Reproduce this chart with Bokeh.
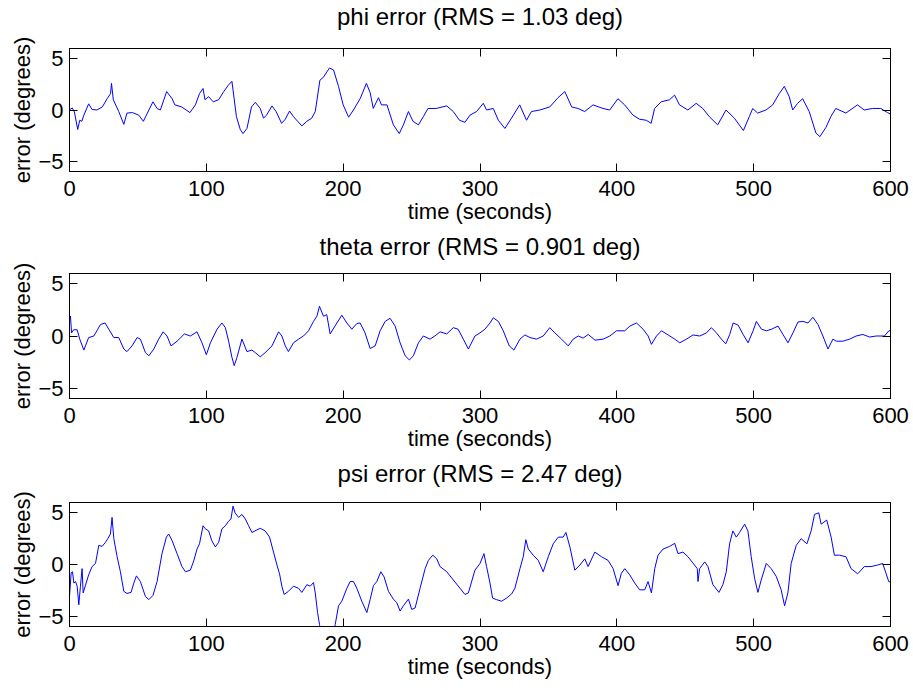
from bokeh.plotting import figure
from bokeh.layouts import column
from bokeh.models import LinearAxis, FixedTicker, Range1d
from bokeh.embed import file_html
from bokeh.resources import INLINE

# ---------------- data ----------------
x_ticks = [0, 100, 200, 300, 400, 500, 600]
y_ticks = [-5, 0, 5]
x_lim = (0, 600)
y_lim = (-6, 6)
titles = ["phi error (RMS = 1.03 deg)",
          "theta error (RMS = 0.901 deg)",
          "psi error (RMS = 2.47 deg)"]
x_label = "time (seconds)"
y_label = "error (degrees)"

phi_t = [0, 2, 3.6, 6, 7.5, 9, 10.5, 14, 16.5, 20,
         24, 27.5, 30, 30.7, 32, 36, 39.7, 42, 46, 50.6,
         54, 58, 61, 64, 66.4, 71, 75, 77, 82, 88,
         92, 95, 97.6, 99, 101.7, 105, 109, 112.7, 116, 118.7,
         120, 122, 124.8, 126.8, 129.7, 133, 135.8, 139.4, 141.8, 144,
         148, 151, 155, 157.7, 160.8, 163.7, 166.7, 169.8, 173.5, 177,
         179.6, 183, 185.6, 188, 190, 193, 196.6, 200, 204, 207.5,
         212.4, 217, 219.7, 222, 225.8, 228, 232, 236.7, 241, 244,
         247.7, 251, 255, 258.6, 262, 268, 275.7, 280.5, 285, 289,
         292.7, 297.5, 302.4, 304.8, 309.7, 313.4, 318.2, 323, 329, 334,
         337.6, 343.7, 351, 357, 362, 367, 371.6, 376.5, 382.6, 389.9,
         394.8, 400.8, 405.7, 411.8, 416.6, 421.5, 425.1, 427.6, 432.4, 438.5,
         442.2, 445.8, 451.9, 458, 462.8, 467.6, 473.7, 479.8, 485.9, 492.5,
         496.8, 499.3, 502.9, 509, 513.9, 518.7, 522.4, 526, 528.5, 532.1,
         535.8, 540.6, 545.5, 548.4, 552.8, 556.4, 560, 567.4, 575.9, 580.8,
         586.8, 592.9, 597.8, 600]
phi_err = [0, 0.2, -0.2, -1.9, -1, -1.1, -0.5, 0.6, 0.05, 0,
           0.3, 1.1, 1.6, 2.6, 1, -0.15, -1.4, -0.3, -0.25, -0.5,
           -1.1, 0, 0.8, 0.15, 0, 1.8, 1.1, 0.5, 0.3, -0.25,
           0.5, 1.6, 2.1, 1, 1.3, 0.8, 1, 1.8, 2.4, 2.8,
           1.45, -0.65, -1.9, -2.3, -1.8, 0.3, 0.75, 0.15, -0.8, -0.5,
           0.4, -0.15, -1.3, -0.9, -0.1, -0.65, -1.1, -1.55, -1.1, -0.8,
           -0.15, 2.9, 3.2, 3.7, 4.1, 3.9, 2.3, 0.5, -0.7, 0,
           1.1, 2.6, 1.7, 0.15, 1.2, 0.5, 0.5, -1.45, -2.3, -1.45,
           -0.15, -1.1, -1.45, -0.65, 0.15, 0.15, 0.4, -0.15, -1, -1.2,
           -0.5, -0.15, 0.65, 0, 0.15, -1, -1.8, -0.8, 0.5, -1,
           -0.15, 0, 0.3, 1.2, 1.8, 0.3, 0.15, -0.15, 0.5, 0.15,
           0, 1.1, 0.5, -0.5, -0.9, -1, -1.3, 0.15, 0.8, 1,
           1.45, 0.5, 0, 0.65, 0.15, -0.65, -1.45, 0, -0.8, -2,
           -0.65, 0.15, -0.3, 0, 0.5, 1.6, 2.3, 1.3, 0, 0.65,
           1.1, -0.15, -2.25, -2.6, -1.7, -0.65, 0.15, -0.3, 0.5, 0,
           0.15, 0.15, -0.25, -0.4]

theta_t = [0, 0.7, 1.5, 3, 5.6, 7.5, 10.5, 14, 17.8, 20,
           22.6, 26, 28.7, 32.4, 36, 39.7, 42, 45.7, 49.4, 51.8,
           55.5, 58, 61.6, 65.2, 68.4, 71.3, 74.2, 78.6, 84, 88.3,
           93.2, 96.8, 100, 103, 107.8, 111.4, 113.9, 116.3, 118.7, 120.4,
           122.4, 126, 129.7, 133.3, 135.8, 139.4, 143, 148, 152.8, 155.2,
           157.7, 160, 163.7, 167.4, 171, 174.7, 178.3, 180.8, 182.7, 185.6,
           188, 190.5, 194, 199, 202.7, 206.3, 210, 212.4, 216, 219.7,
           223.4, 227, 230.7, 234.3, 238, 241.6, 245.3, 248.4, 251.3, 255,
           258.6, 263.5, 267, 270.8, 275.7, 280.5, 284, 287.8, 291.5, 296.3,
           300, 303.6, 307.3, 309.7, 313.4, 317, 321.4, 324.8, 329.2, 332.8,
           336.5, 341.3, 346.2, 351, 354.7, 359.6, 364.5, 368.1, 371.8, 375.4,
           379.1, 384, 390, 394.9, 399.8, 405.8, 409.5, 414.4, 419.2, 422.9,
           425.3, 429, 432.6, 437.5, 442.3, 446, 450.9, 455.7, 460.6, 465.5,
           469.1, 472.8, 476.4, 479.6, 482.5, 485, 488.6, 492.3, 495.9, 499.6,
           502, 505.7, 509.3, 513, 517.8, 521.4, 525.1, 528.7, 532.4, 536,
           539.7, 543.3, 547, 550.6, 554.3, 557.9, 560.3, 565.2, 570.1, 574.9,
           579.8, 584.7, 589.5, 595.6, 598.8, 600]
theta_err = [1.5, 1.9, 0.3, 0.6, 0.6, -0.3, -1.35, -0.15, 0, 0.5,
             1.1, 1.25, 0.65, -0.15, -0.15, -1.25, -1.5, -0.95, -0.15, -0.3,
             -1.6, -1.9, -1.25, -0.3, 0.4, 0, -0.95, -0.5, 0.2, 0,
             0.4, -0.65, -1.8, -0.65, 0.65, 1.25, 0.8, -0.5, -2.05, -2.85,
             -2.05, -0.3, -1.5, -1.35, -1.6, -2, -1.6, -0.95, 0.4, 0,
             -0.95, -1.5, -0.65, -0.3, 0, 0.5, 1.4, 1.9, 2.85, 1.9,
             2.05, 0.2, 0.95, 2, 1.25, 0.65, 1.2, 1.25, 0.3, -1.2,
             -0.95, 0.5, 1.4, 1.7, 0.95, -0.65, -1.9, -2.3, -1.9, -0.65,
             0, -0.3, 0, 0.4, 0.2, 0.8, 0.65, -0.3, -1.25, 0,
             0.3, 0.65, 1.25, 1.75, 1.4, 0.5, -0.95, -1.35, -0.3, 0.1,
             -0.15, -0.3, 0, 0.8, 0.3, -0.3, -0.95, -0.3, 0, -0.2,
             0.15, -0.4, -0.3, 0, 0.5, 0.5, 0.95, 1.25, 0.65, 0,
             -0.8, 0, 0.5, 0.1, -0.3, -0.65, -0.3, 0.1, 0, 0.3,
             0.8, 0.3, -0.3, -0.75, 0.15, 1.25, 1.05, 0.15, -0.65, 0.5,
             1.4, 0.65, 0.5, 0.65, 0.95, 0.15, -0.65, 0.3, 1.35, 1.4,
             1.25, 1.8, 1.1, 0, -1.25, -0.3, -0.5, -0.5, -0.3, 0,
             0.15, -0.1, 0, 0, 0.5, 0.5]

psi_t = [0, 1.2, 2.2, 3.2, 4.4, 5.6, 6.8, 8, 9.2, 10,
         11.7, 14, 16.5, 19, 21.4, 23.8, 26.3, 28, 29.9, 31.1,
         32.4, 34.8, 37.2, 39.7, 42, 45, 47, 48.9, 51.8, 55.5,
         58, 61, 64, 67.6, 70.8, 72.5, 75, 78.6, 82.2, 84.7,
         88.3, 90.8, 93.2, 95, 97.6, 99.3, 101.7, 104, 106.6, 109,
         111.4, 113.9, 116.3, 118, 119.5, 121, 123.6, 126, 128.5, 130.9,
         133.3, 137, 139.4, 143, 146.2, 149.1, 151.6, 153.5, 155.2, 156.9,
         160, 163.7, 167.4, 169.8, 173.5, 175.9, 178.3, 179.6, 181.3, 182.7,
         184.4, 188, 191.7, 194.2, 196.6, 199, 202.7, 205.1, 207.5, 210,
         213.6, 217.3, 219.7, 222.1, 224.6, 227.5, 229.9, 233.1, 236.7, 239.2,
         241.6, 244, 247.7, 250.1, 252.6, 256.2, 259.9, 262.3, 265.5, 268.4,
         270.8, 275.7, 280.5, 285.4, 289, 291.5, 296.3, 300, 302.9, 304.8,
         307.3, 309.2, 312.1, 315.8, 319.4, 323.1, 325.5, 329.2, 331.6, 333.5,
         335.3, 338.9, 342.6, 346.2, 349.9, 353.5, 357.2, 360.8, 362.8, 365.7,
         369.3, 373, 376.6, 379, 383.9, 388.8, 393.6, 397.3, 400.9, 403.3,
         405.8, 409.4, 413.1, 416.7, 420.4, 422.8, 425.3, 427.7, 430.1, 433.8,
         438.6, 442.3, 444.7, 448.3, 452, 455.6, 458.8, 459.3, 460.5, 464.2,
         466.6, 470.2, 474.6, 477.5, 480, 482.4, 484.8, 487.3, 489.7, 493.4,
         495.8, 498.2, 500.7, 503.1, 505.5, 509.2, 512.8, 516.5, 520.1, 522.6,
         525, 527.4, 531.1, 534.7, 538.9, 542, 544.5, 547.6, 549.3, 553.4,
         556.6, 559, 562.7, 567.5, 571.2, 576, 580.9, 585.8, 590.6, 594.3,
         596.7, 598.7, 600]
psi_err = [-3.1, -0.8, -0.7, -1.8, -1.65, -2.1, -3.9, -2.1, -0.4, -2.75,
           -2, -1, -0.2, 0.1, 1.85, 1.75, 2.15, 2.5, 2.95, 4.55,
           2.5, 0.75, -0.7, -2.6, -2.8, -2.7, -1.8, -1.1, -1.65, -3.1,
           -3.4, -3, -1.65, 1.05, 2.65, 2.95, 2.3, 1.05, -0.2, -0.7,
           -0.55, 0.35, 1.5, 2, 3.75, 3.45, 3.25, 2.3, 1.7, 2.15,
           3.45, 3.75, 4.2, 4.4, 5.65, 5, 4.55, 4.85, 4.4, 3.75,
           3.1, 3.35, 3.5, 3.25, 2.65, 1.2, -0.05, -0.9, -2.1, -2.9,
           -2.6, -2.1, -2.3, -2.7, -1.95, -2.1, -1.75, -2.75, -4.65, -5.8,
           -6.9, -7.8, -7.2, -5.8, -4, -3.55, -2.3, -1.65, -1.65, -2.3,
           -3.55, -4.65, -3.4, -2.05, -1.65, -0.7, -1.2, -2.6, -3.35, -3.7,
           -4.5, -4, -3.35, -4.35, -4.2, -2.3, -0.4, 0.4, 0.9, 0.55,
           -0.2, -0.7, -1.5, -2.3, -2.9, -2.75, -0.55, 0.1, 1.05, -0.2,
           -1.8, -3.25, -3.4, -3.55, -3.25, -2.85, -2.3, -0.4, 0.75, 2.4,
           1.5, 0.9, 0.4, -0.7, 0.75, 2, 2.65, 2.65, 3.1, 1.7,
           -0.55, -0.05, 0.55, -0.2, 1.2, 0.75, 0.4, -0.4, -2.05, -0.85,
           -0.4, -1, -1.8, -2.45, -2.45, -1.65, -2.75, -0.4, 0.9, 1.5,
           1.75, 2.05, 1.05, 1.2, 0.75, 0.15, -0.4, -1.65, -0.4, 0.25,
           -0.2, -1.95, -2.7, -1.95, -0.7, 2, 3.25, 2.65, 3.1, 3.9,
           3.25, 0.75, -1.35, -2.7, -1.5, 0.1, -0.4, -1.15, -2.45, -4,
           -2.75, 0.1, 1.85, 2.5, 2, 3.25, 4.85, 5, 3.9, 4.3,
           2.65, 0.9, 0.9, 0.75, -0.4, -0.9, -0.2, -0.2, -0.05, 0.1,
           -0.85, -1.65, -1.7]

# ---------------- styling ----------------
FONT = "Liberation Sans"
FS = "22px"
TITLE_FS = "24px"


def make(title, t, v, frame_h, top, bottom, gap):
    p = figure(frame_width=821, frame_height=frame_h,
               x_range=Range1d(*x_lim), y_range=Range1d(*y_lim),
               output_backend="svg", toolbar_location=None,
               min_border_left=69, min_border_right=20,
               min_border_top=top, min_border_bottom=bottom,
               background_fill_color="white", border_fill_color="white")
    p.xgrid.visible = False
    p.ygrid.visible = False
    p.outline_line_color = "black"

    p.xaxis.ticker = FixedTicker(ticks=x_ticks)
    p.yaxis.ticker = FixedTicker(ticks=y_ticks)
    for ax in (p.xaxis[0], p.yaxis[0]):
        ax.major_tick_in = 8
        ax.major_tick_out = 0
        ax.minor_tick_line_color = None
        ax.axis_line_color = "black"
        ax.major_tick_line_color = "black"
        ax.major_label_text_color = "black"
        ax.major_label_text_font = FONT
        ax.major_label_text_font_size = FS
        ax.axis_label_text_font = FONT
        ax.axis_label_text_font_size = FS
        ax.axis_label_text_font_style = "normal"
        ax.axis_label_text_color = "black"
        ax.axis_label_standoff = 0
    p.xaxis.major_label_standoff = 9
    p.yaxis.major_label_standoff = 6
    p.xaxis.axis_label = x_label
    p.yaxis.axis_label = y_label

    # mirrored box ticks (top / right), labels hidden
    top_ax = LinearAxis(ticker=FixedTicker(ticks=x_ticks))
    right_ax = LinearAxis(ticker=FixedTicker(ticks=y_ticks))
    for ax in (top_ax, right_ax):
        ax.major_tick_in = 8
        ax.major_tick_out = 0
        ax.minor_tick_line_color = None
        ax.axis_line_color = "black"
        ax.major_tick_line_color = "black"
        ax.major_label_text_color = None
        ax.major_label_text_font_size = "0px"
        ax.major_label_standoff = 0
    p.add_layout(top_ax, "above")
    p.add_layout(right_ax, "right")

    # spacer between the box and the title: a blank axis whose single
    # outward tick is practically transparent
    spacer = LinearAxis(ticker=FixedTicker(ticks=[(x_lim[0] + x_lim[1]) / 2]))
    spacer.axis_line_color = None
    spacer.minor_tick_line_color = None
    spacer.major_tick_line_color = "white"
    spacer.major_tick_line_alpha = 0.01
    spacer.major_tick_in = 0
    spacer.major_tick_out = gap
    spacer.major_label_text_color = None
    spacer.major_label_text_font_size = "0px"
    spacer.major_label_standoff = 0
    p.add_layout(spacer, "above")

    p.title.text = title
    p.title.align = "center"
    p.title.text_font = FONT
    p.title.text_font_size = TITLE_FS
    p.title.text_font_style = "normal"
    p.title.text_color = "black"
    p.title.standoff = 0

    p.line(t, v, line_color="#0000ff", line_width=1)
    return p


p1 = make(titles[0], phi_t, phi_err, 123, 48, 59, 19)
p2 = make(titles[1], theta_t, theta_err, 125, 43, 59, 14)
p3 = make(titles[2], psi_t, psi_err, 124, 45, 59, 16)

layout = column(p1, p2, p3, spacing=0)
open("out.html", "w").write(file_html(layout, INLINE))
